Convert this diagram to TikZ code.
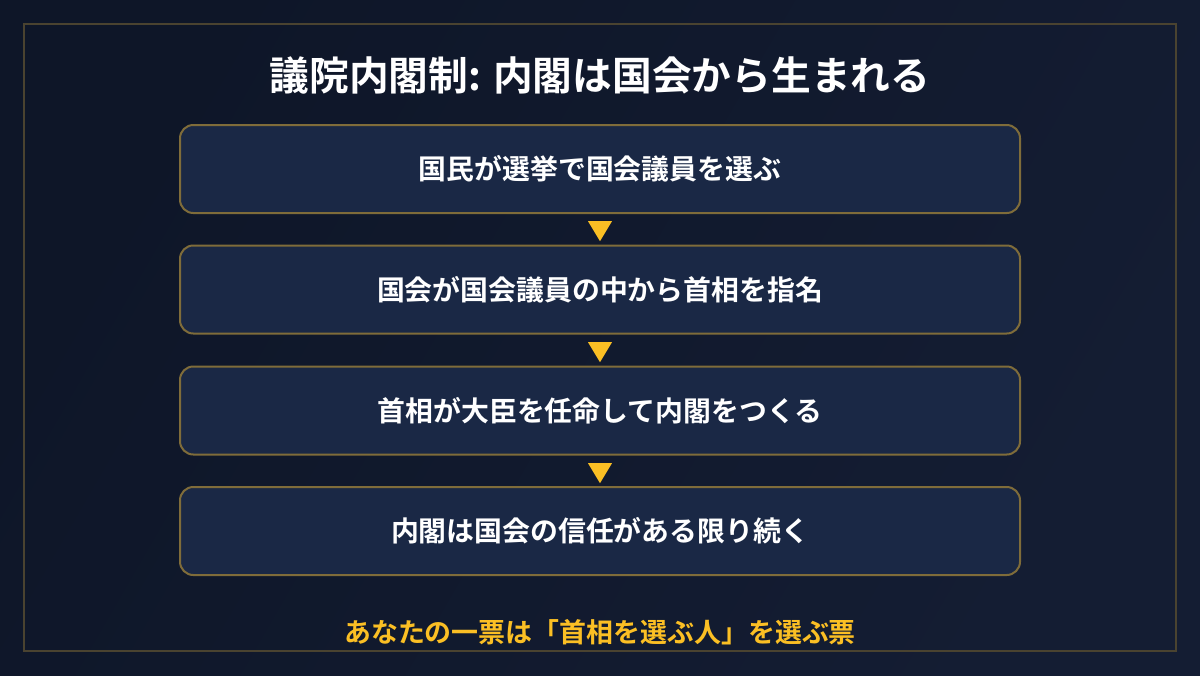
\documentclass[tikz,border=0pt]{standalone}
\usepackage{fontspec}
\setmainfont{Noto Sans CJK JP}[BoldFont={* Bold}]
\usetikzlibrary{shapes.geometric}
\definecolor{bgA}{HTML}{0E1628}
\definecolor{bgB}{HTML}{141D33}
\definecolor{frameC}{HTML}{4A4330}
\definecolor{boxFill}{HTML}{1A2845}
\definecolor{boxLine}{HTML}{7F6C3A}
\definecolor{gold}{HTML}{FBBF24}
\begin{document}
\begin{tikzpicture}[x=0.75pt,y=-0.75pt,
  stepbox/.style={draw=boxLine,line width=1.5pt,fill=boxFill,rounded corners=10pt,
    minimum width=630pt,minimum height=66pt,inner sep=0pt,text=white,
    font=\fontsize{20.9}{25}\selectfont\bfseries},
  downtri/.style={isosceles triangle,isosceles triangle apex angle=62,shape border rotate=270,
    fill=gold,draw=none,minimum height=13.5pt,minimum width=18pt,inner sep=0pt},
  titletext/.style={text=white,font=\fontsize{29.8}{35}\selectfont\bfseries,inner sep=0pt},
  notetext/.style={text=gold,font=\fontsize{20.2}{24}\selectfont\bfseries,inner sep=0pt}]
\useasboundingbox (0,0) rectangle (1200,675);
\shade[left color=bgA,right color=bgB,shading angle=60] (0,0) rectangle (1200,675);
\draw[frameC,line width=1.5pt] (24,24) rectangle (1176,651);
\node[titletext] (title) at (600,75) {議院内閣制: 内閣は国会から生まれる};
\node[stepbox] (s1) at (600,169) {国民が選挙で国会議員を選ぶ};
\node[stepbox] (s2) at (600,289.5) {国会が国会議員の中から首相を指名};
\node[stepbox] (s3) at (600,410.5) {首相が大臣を任命して内閣をつくる};
\node[stepbox] (s4) at (600,531) {内閣は国会の信任がある限り続く};
\node[downtri] (a1) at (600,228) {};
\node[downtri] (a2) at (600,349) {};
\node[downtri] (a3) at (600,470) {};
\node[notetext] (note) at (600,632) {あなたの一票は「首相を選ぶ人」を選ぶ票};
\end{tikzpicture}
\end{document}
